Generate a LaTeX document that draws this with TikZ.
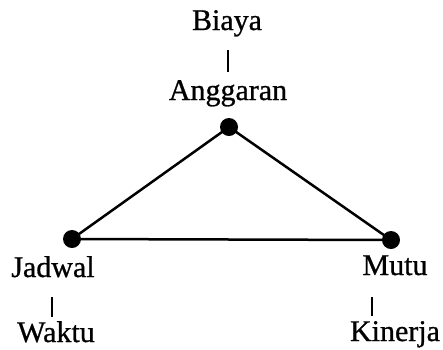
\documentclass[tikz,border=0pt]{standalone}
\usepackage{fontspec}
\setmainfont{Liberation Serif}
\newfontfamily\lblfont{Liberation Serif}[FakeBold=0.8]
\begin{document}
\begin{tikzpicture}[x=1pt,y=-1pt,
  lbl/.style={inner sep=0pt,anchor=base,text height=20pt,text depth=6pt,font=\lblfont\fontsize{30}{35}\selectfont},
  dot/.style={circle,fill=black,inner sep=0pt,minimum size=18pt},
  edge/.style={line width=2.5pt},
  bar/.style={line width=1.8pt}]
\useasboundingbox (0,0) rectangle (443,349);
\node[dot] (a) at (229,127) {};
\node[dot] (j) at (72,239) {};
\node[dot] (m) at (391,240) {};
\draw[edge] (j.center) -- (a.center) -- (m.center) -- (j.center);
\node[lbl] (biaya) at (227,30) {Biaya};
\node[lbl] (anggaran) at (228,100) {Anggaran};
\node[lbl] (jadwal) at (53,277) {Jadwal};
\node[lbl] (waktu) at (56,342) {Waktu};
\node[lbl] (mutu) at (395,275) {Mutu};
\node[lbl] (kinerja) at (395,341) {Kinerja};
\draw[bar,shorten <=14pt,shorten >=8pt] ([xshift=1pt]biaya.south) -- ([xshift=1pt]biaya.south |- anggaran.north);
\draw[bar,shorten <=14pt,shorten >=5pt] ([xshift=-1pt]jadwal.south) -- ([xshift=-1pt]jadwal.south |- waktu.north);
\draw[bar,shorten <=16pt,shorten >=5pt] ([xshift=-23pt]mutu.south) -- ([xshift=-23pt]mutu.south |- kinerja.north);
\end{tikzpicture}
\end{document}
